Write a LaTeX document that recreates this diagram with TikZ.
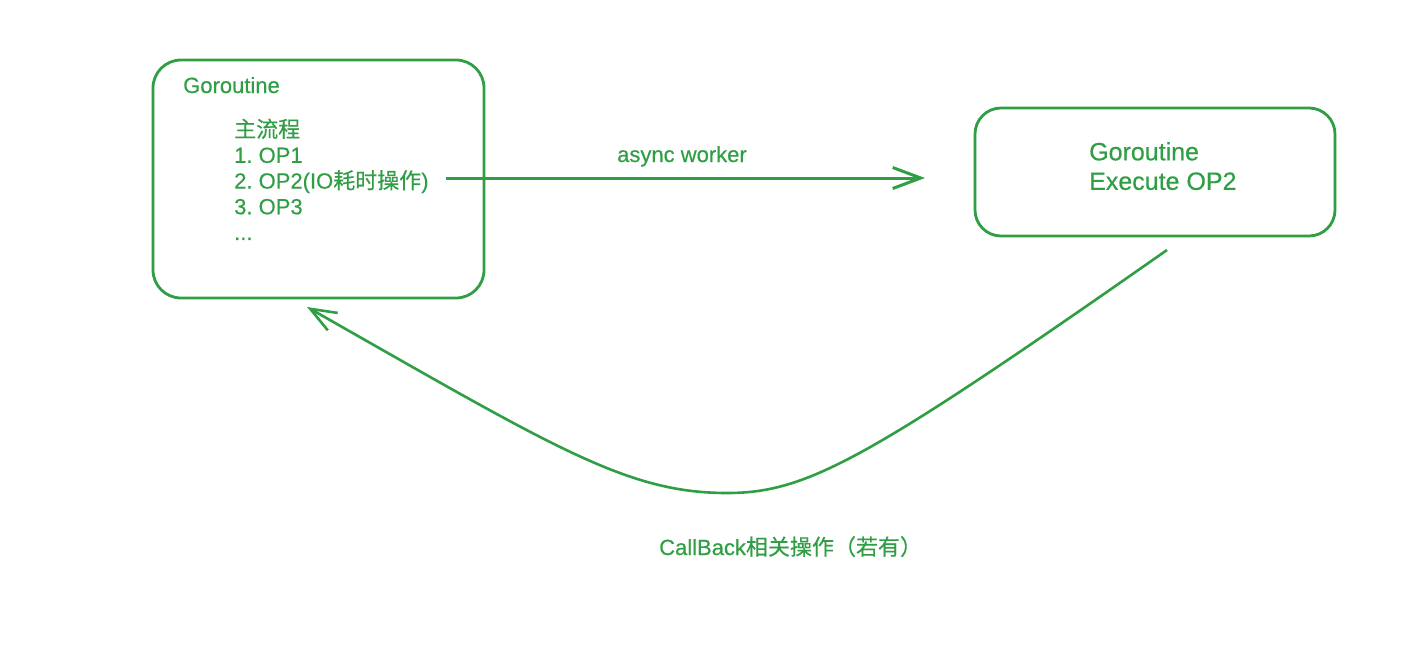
\documentclass[tikz,border=0pt]{standalone}
\usepackage{fontspec}
\setmainfont{Liberation Sans}[FakeBold=0.4]
\newfontfamily\cjk{Noto Sans CJK SC}[FakeBold=0.3]
\usetikzlibrary{arrows.meta}
\definecolor{exgreen}{HTML}{2F9E44}
\begin{document}
\frenchspacing
\begin{tikzpicture}[x=1pt,y=-1pt,
  box/.style={draw=exgreen, line width=2.8pt, rounded corners=26pt, inner sep=0pt},
  lbl/.style={text=exgreen, inner sep=0pt, font=\fontsize{22}{25.7}\selectfont},
  big/.style={text=exgreen, inner sep=0pt, font=\fontsize{25}{29.5}\selectfont},
  conn/.style={draw=exgreen, line width=3pt, -{Straight Barb[length=28pt,width=21pt]}},
  back/.style={draw=exgreen, line width=2.6pt, -{Straight Barb[length=26pt,width=20pt]}}]
\useasboundingbox[fill=white] (0,0) rectangle (1426,646);
% boxes
\node[box, rounded corners=28pt, minimum width=331pt, minimum height=238pt] (L) at (318.5,179) {};
\node[box, minimum width=360pt, minimum height=128pt] (R) at (1155,172) {};
% texts
\node[lbl, anchor=base west] (lt) at (183,93) {Goroutine};
\node[lbl, anchor=north west, align=left] (list) at (234,118.5)
  {{\cjk 主流程}\\1. OP1\\2. OP2(IO{\cjk 耗时操作})\\3. OP3\\...};
\node[big, anchor=north west, align=left] (rt) at (1089,142)
  {Goroutine\\Execute OP2};
% connectors
\coordinate (a1) at (446,178);
\coordinate (a2) at (925,178);
\draw[conn] (a1) -- (a2);
\node[lbl, anchor=base west] (al) at (617,162) {async worker};
\coordinate (c0) at (1167,250);
\coordinate (cm) at (727,493);
\coordinate (c9) at (307,307);
\draw[back] (c0) .. controls (867,460) and (807,493) .. (cm)
  .. controls (627,493) and (556,448.5) .. (c9);
\node[lbl, anchor=base west] (cl) at (659,555) {CallBack{\cjk 相关操作（若有）}};
\end{tikzpicture}
\end{document}
